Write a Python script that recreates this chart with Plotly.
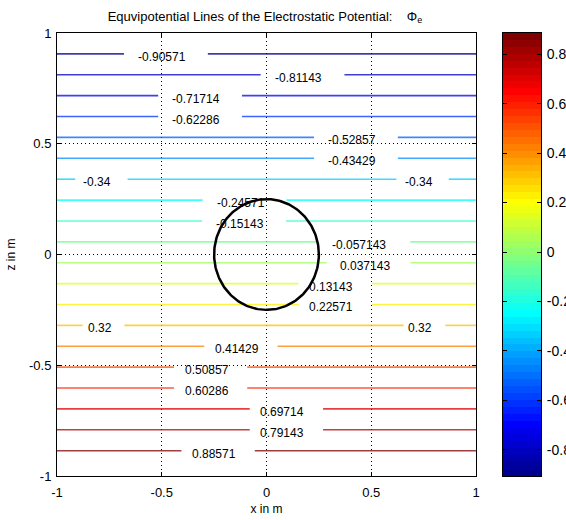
import numpy as np
import plotly.graph_objects as go

# ---- data ----
levels = [-0.90571, -0.81143, -0.71714, -0.62286, -0.52857, -0.43429, -0.34,
          -0.24571, -0.15143, -0.057143, 0.037143, 0.13143, 0.22571, 0.32,
          0.41429, 0.50857, 0.60286, 0.69714, 0.79143, 0.88571]
# x positions (centres) of the in-line contour labels, per level
label_x = [[-0.48], [0.172], [-0.317], [-0.317], [0.427], [0.427], [-0.788, 0.745],
           [-0.105], [-0.107], [0.461], [0.487], [0.327], [0.329], [-0.778, 0.754],
           [-0.122], [-0.267], [-0.267], [0.095], [0.095], [-0.231]]
circle_center = (0.0, 0.0)
circle_radius = 0.25
axis_ticks = [-1, -0.5, 0, 0.5, 1]
axis_ticktext = ["-1", "-0.5", "0", "0.5", "1"]
cbar_ticks = [-0.8, -0.6, -0.4, -0.2, 0, 0.2, 0.4, 0.6, 0.8]
cbar_ticktext = ["-0.8", "-0.6", "-0.4", "-0.2", "0", "0.2", "0.4", "0.6", "0.8"]


def jet(m=64):
    n = int(np.ceil(m / 4))
    u = np.concatenate([np.arange(1, n + 1) / n, np.ones(n - 1), np.arange(n, 0, -1) / n])
    g = int(np.ceil(n / 2)) - (1 if m % 4 == 1 else 0) + np.arange(1, len(u) + 1)
    r = g + n
    b = g - n
    g = g[g <= m]
    r = r[r <= m]
    b = b[b >= 1]
    J = np.zeros((m, 3))
    J[r - 1, 0] = u[:len(r)]
    J[g - 1, 1] = u[:len(g)]
    J[b - 1, 2] = u[len(u) - len(b):]
    return J


NC = 64
J = jet(NC)
cmin, cmax = min(levels), max(levels)


def rgb(c):
    return "rgb(%d,%d,%d)" % tuple(int(round(v * 255)) for v in c)


def level_color(v):
    idx = int(np.floor((v - cmin) / (cmax - cmin) * NC))
    idx = max(0, min(NC - 1, idx))
    return rgb(J[idx])


colorscale = []
for i in range(NC):
    colorscale.append([i / NC, rgb(J[i])])
    colorscale.append([(i + 1) / NC, rgb(J[i])])

FONT = "Liberation Sans, Arial, sans-serif"
PER_CHAR = 0.05  # gap width per label character (data units)

W, H = 566, 520
ML, MR, MT, MB = 57, 25, 33, 44
PW = W - ML - MR
main_dom = [0, (476 - ML) / PW]
cb_dom = [(503 - ML) / PW, (541 - ML) / PW]

fig = go.Figure()
annotations = []
for lev, lxs in zip(levels, label_x):
    z = -lev
    txt = "{:.5g}".format(lev)
    half = len(txt) * PER_CHAR / 2
    xs, ys = [-1.0], [z]
    for cx in sorted(lxs):
        xs += [cx - half, None, cx + half]
        ys += [z, None, z]
        annotations.append(dict(x=cx, y=z, xref="x", yref="y", text=txt, showarrow=False,
                                xshift=-4, yshift=-3,
                                font=dict(family=FONT, size=12, color="black")))
    xs.append(1.0)
    ys.append(z)
    fig.add_trace(go.Scatter(x=xs, y=ys, mode="lines",
                             line=dict(color=level_color(lev), width=1.6), opacity=0.75,
                             hoverinfo="skip", showlegend=False))

# circle
t = np.linspace(0, 2 * np.pi, 200)
fig.add_trace(go.Scatter(x=circle_center[0] + circle_radius * np.cos(t),
                         y=circle_center[1] + circle_radius * np.sin(t),
                         mode="lines", line=dict(color="black", width=2.5),
                         hoverinfo="skip", showlegend=False))

# colour bar drawn as a heatmap on its own axes
step = (cmax - cmin) / NC
band_centres = cmin + step * (np.arange(NC) + 0.5)
fig.add_trace(go.Heatmap(z=band_centres.reshape(-1, 1), x=[0], y=band_centres,
                         colorscale=colorscale, zmin=cmin, zmax=cmax, showscale=False,
                         xaxis="x2", yaxis="y2", hoverinfo="skip"))

axis_common = dict(showgrid=True, griddash="1px,3px", gridcolor="black", gridwidth=1,
                   zeroline=False, showline=True, linecolor="black", linewidth=1,
                   mirror="ticks", ticks="inside", ticklen=4, tickcolor="black",
                   tickfont=dict(family=FONT, size=13, color="black"))

fig.update_layout(
    width=W, height=H,
    margin=dict(l=ML, r=MR, t=MT, b=MB, autoexpand=False),
    paper_bgcolor="white", plot_bgcolor="white",
    title=dict(text="Equvipotential Lines of the Electrostatic Potential:    \u03a6<sub>e</sub>",
               x=(265 - ML) / PW, xref="paper", xanchor="center", y=1 - 16 / H, yref="container",
               yanchor="middle", font=dict(family=FONT, size=13, color="black")),
    xaxis=dict(axis_common, domain=main_dom, range=[-1, 1], tickvals=axis_ticks, ticktext=axis_ticktext,
               ticklabelstandoff=4,
               title=dict(text="x in m", standoff=6, font=dict(family=FONT, size=12, color="black"))),
    yaxis=dict(axis_common, range=[-1, 1], tickvals=axis_ticks, ticktext=axis_ticktext,
               ticklabelstandoff=2,
               title=dict(text="z in m", standoff=10, font=dict(family=FONT, size=12, color="black"))),
    xaxis2=dict(domain=cb_dom, anchor="y2", range=[-0.5, 0.5], showgrid=False, zeroline=False,
                showticklabels=False, ticks="", showline=True, mirror=True, linecolor="black", linewidth=1),
    yaxis2=dict(domain=[0, 1], anchor="x2", side="right", range=[cmin, cmax], showgrid=False,
                zeroline=False, tickvals=cbar_ticks, ticktext=cbar_ticktext,
                ticks="inside", ticklen=4, tickcolor="black", showline=True, mirror="ticks",
                linecolor="black", linewidth=1, ticklabelstandoff=2,
                tickfont=dict(family=FONT, size=14, color="black")),
    annotations=annotations,
)

fig.write_html("out.html")
